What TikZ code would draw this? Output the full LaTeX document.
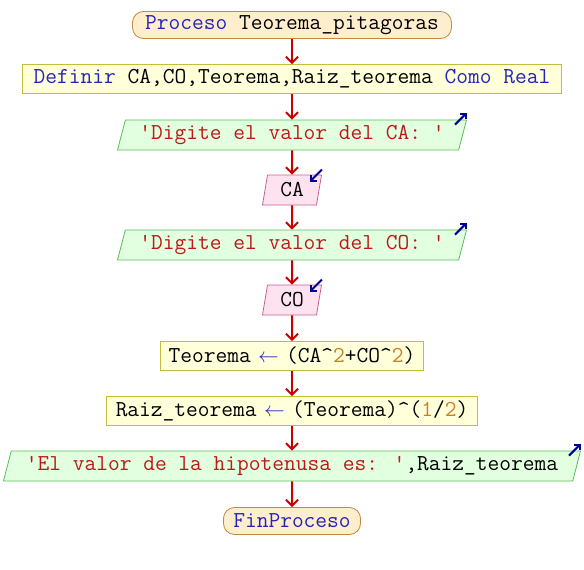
\documentclass[tikz,border=0pt]{standalone}
\usepackage{fontspec}
\usetikzlibrary{arrows.meta,shapes.geometric}

\definecolor{procfill}{RGB}{255,238,206}
\definecolor{procline}{RGB}{196,136,64}
\definecolor{asigfill}{RGB}{255,255,218}
\definecolor{asigline}{RGB}{198,188,60}
\definecolor{salfill}{RGB}{226,255,224}
\definecolor{salline}{RGB}{86,190,86}
\definecolor{entfill}{RGB}{255,226,240}
\definecolor{entline}{RGB}{200,96,136}
\definecolor{flujo}{RGB}{200,0,0}
\definecolor{marca}{RGB}{0,0,150}
\definecolor{kw}{RGB}{36,36,184}
\definecolor{cad}{RGB}{190,24,24}
\definecolor{num}{RGB}{200,128,40}

\begin{document}
\begin{tikzpicture}[x=1pt,y=-1pt,->,>={Straight Barb[length=6pt,width=12pt]},
                    font=\ttfamily\fontsize{22.8}{27}\selectfont]

  \tikzstyle{every node}=[line width=0.8pt,inner sep=0pt,align=center]
  \tikzstyle{proc}=[rectangle,rounded corners=11pt,draw=procline,fill=procfill,minimum height=27pt]
  \tikzstyle{asig}=[rectangle,draw=asigline,fill=asigfill,minimum height=29pt]
  \tikzstyle{salida}=[trapezium,trapezium left angle=68,trapezium right angle=112,
                      trapezium stretches body,draw=salline,fill=salfill,minimum height=30pt]
  \tikzstyle{entrada}=[trapezium,trapezium left angle=71,trapezium right angle=109,
                       trapezium stretches body,draw=entline,fill=entfill,minimum height=30pt]
  \tikzstyle{flecha}=[draw=flujo,line width=2pt]
  \tikzstyle{marca}=[draw=marca,line width=2pt,>={Straight Barb[length=4pt,width=8pt]}]

  \newcommand{\asigna}{\textcolor{kw}{\makebox[0.525em][c]{$\leftarrow$}}}

  \useasboundingbox (0,0) rectangle (584,570);

  \node[proc,minimum width=319pt] (PR) at (292,25)
    {\textcolor{kw}{Proceso} Teorema\_pitagoras};
  \node[asig,minimum width=539pt] (DEF) at (292,79)
    {\textcolor{kw}{Definir} CA,CO,Teorema,Raiz\_teorema \textcolor{kw}{Como Real}};
  \node[salida,minimum width=349pt] (S1) at (292,135)
    {\textcolor{cad}{'Digite el valor del CA: '}};
  \node[entrada,minimum width=59pt] (E1) at (292,190) {CA};
  \node[salida,minimum width=349pt] (S2) at (292,245)
    {\textcolor{cad}{'Digite el valor del CO: '}};
  \node[entrada,minimum width=59pt] (E2) at (292,300) {CO};
  \node[asig,minimum width=263pt] (A1) at (292,356)
    {Teorema \asigna{} (CA\textasciicircum\textcolor{num}{2}+CO\textasciicircum\textcolor{num}{2})};
  \node[asig,minimum width=371pt] (A2) at (292,411)
    {Raiz\_teorema \asigna{} (Teorema)\textasciicircum(\textcolor{num}{1}/\textcolor{num}{2})};
  \node[salida,minimum width=577pt] (S3) at (292,466)
    {\textcolor{cad}{'El valor de la hipotenusa es: '},Raiz\_teorema};
  \node[proc,minimum width=137pt] (FIN) at (292,521) {\textcolor{kw}{FinProceso}};

  \path (PR) edge[flecha] (DEF)
        (DEF) edge[flecha] (S1)
        (S1) edge[flecha] (E1)
        (E1) edge[flecha] (S2)
        (S2) edge[flecha] (E2)
        (E2) edge[flecha] (A1)
        (A1) edge[flecha] (A2)
        (A2) edge[flecha] (S3)
        (S3) edge[flecha] (FIN);

  % marcas de salida / entrada
  \foreach \s in {S1,S2,S3}
    \draw[marca] ([shift={(-12,5)}]\s.top right corner) -- ([shift={(0,-7)}]\s.top right corner);
  \foreach \e in {E1,E2}
    \draw[marca] ([shift={(0,-5)}]\e.top right corner) -- ([shift={(-12,7)}]\e.top right corner);
\end{tikzpicture}
\end{document}
